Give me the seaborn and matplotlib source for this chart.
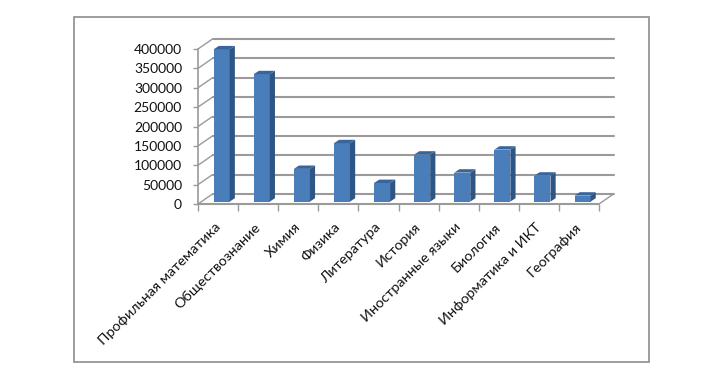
import matplotlib
matplotlib.use("Agg")
import matplotlib.pyplot as plt
import pandas as pd
import seaborn as sns
from matplotlib.patches import Polygon, Rectangle
from matplotlib.transforms import Affine2D

predmety = ["Профильная математика", "Обществознание", "Химия", "Физика", "Литература",
            "История", "Иностранные языки", "Биология", "Информатика и ИКТ", "География"]
uchastniki = [393000, 328800, 84400, 150700, 48000, 121300, 74800, 134200, 67100, 15500]
deleniya = [0, 50000, 100000, 150000, 200000, 250000, 300000, 350000, 400000]

sns.set_theme(style="white")
plt.rcParams["font.family"] = ["Lato", "Open Sans", "DejaVu Sans"]

W, H = 720, 379
fig = plt.figure(figsize=(7.2, 3.79), dpi=100)

# рамка вокруг диаграммы
fig.add_artist(Rectangle((73.5 / W, 1 - 362 / H), (649 - 73.5) / W, (362 - 17) / H,
                         transform=fig.transFigure, fill=False, ec="#8c8c8c", lw=1.2))

# передняя грань оси в пикселях: x 198..599, y 204..49
ax = fig.add_axes([198 / W, 1 - 204 / H, (599 - 198) / W, 155 / H])
df = pd.DataFrame({"predmet": predmety, "n": uchastniki})
sns.barplot(data=df, x="predmet", y="n", color="#4a7ebb", saturation=1, width=0.4,
            edgecolor="none", linewidth=0, ax=ax)
ax.set_xlim(-0.5, 9.5)
ax.set_ylim(0, 400000)
ax.set_xlabel("")
ax.set_ylabel("")
sns.despine(ax=ax, left=True, bottom=True, top=True, right=True)

# глубина псевдо-3D
glub_x, glub_y = 14.5, 10
back = ax.transData + Affine2D().translate(glub_x, glub_y)
setka = "#9a9a9a"
for d in deleniya:
    ax.plot([-0.5, 9.5], [d, d], transform=back, color=setka, lw=1.5, zorder=1, clip_on=False)
    p0 = ax.transData.transform((-0.5, d))
    ax.plot([p0[0], p0[0] + glub_x], [p0[1], p0[1] + glub_y], transform=None,
            color=setka, lw=1.0, zorder=1, clip_on=False)
p1 = ax.transData.transform((9.5, 0))
ax.plot([p1[0], p1[0] + glub_x], [p1[1], p1[1] + glub_y], transform=None,
        color=setka, lw=1.0, zorder=1, clip_on=False)
ax.plot([-0.5, -0.5], [0, 400000], color=setka, lw=1.2, zorder=1, clip_on=False)
ax.plot([-0.5, 9.5], [0, 0], color=setka, lw=1.5, zorder=1, clip_on=False)

# столбики стоят в середине глубины, боковая и верхняя грани
sdvig = Affine2D().translate(3.6, 2.4)
d_x, d_y = 5.2, 3.4
for patch in list(ax.patches):
    patch.set_transform(ax.transData + sdvig)
    patch.set_zorder(3)
    x0 = patch.get_x()
    x1 = x0 + patch.get_width()
    h = patch.get_height()
    a = sdvig.transform(ax.transData.transform([(x0, 0), (x1, 0), (x0, h), (x1, h)]))
    bok = [a[1], a[1] + (d_x, d_y), a[3] + (d_x, d_y), a[3]]
    verh = [a[2], a[3], a[3] + (d_x, d_y), a[2] + (d_x, d_y)]
    ax.add_patch(Polygon(bok, closed=True, transform=None, fc="#2f5585", ec="none", zorder=3, clip_on=False))
    ax.add_patch(Polygon(verh, closed=True, transform=None, fc="#3a659c", ec="none", zorder=3, clip_on=False))

ax.set_yticks(deleniya)
ax.set_yticklabels([str(d) for d in deleniya], fontsize=10, color="#111111")
ax.tick_params(axis="y", left=True, length=3.5, width=1, color=setka, pad=8)
ax.set_xticks([i - 0.5 for i in range(11)], minor=True)
ax.tick_params(axis="x", which="minor", length=5, width=1, color=setka, bottom=True)
ax.set_xticks(range(10))
ax.set_xticklabels(predmety, rotation=45, ha="right", rotation_mode="anchor", fontsize=10.4, color="#111111")
ax.tick_params(axis="x", which="major", length=0, pad=12)
for lab in ax.get_xticklabels():
    lab.set_transform(lab.get_transform() + Affine2D().translate(-4, 0))

fig.savefig("out.png", dpi=100)
